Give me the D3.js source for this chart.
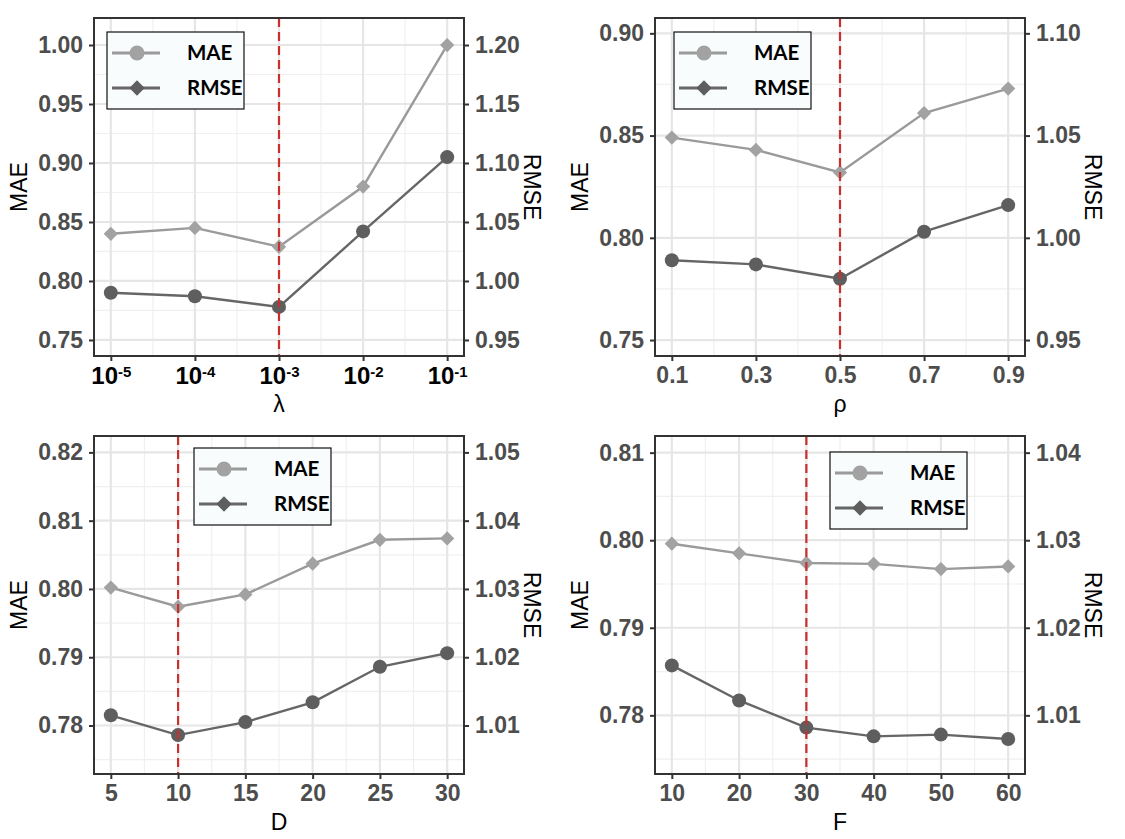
<!DOCTYPE html>
<html>
<head>
<meta charset="utf-8">
<script src="https://cdn.jsdelivr.net/npm/d3@7"></script>
<style>
  body { margin: 0; background: #fff; }
  svg { display: block; }
  svg text { font-family: "Liberation Sans", Arial, sans-serif; }
  svg text.leg { font-family: Lato, "Open Sans", sans-serif; }
</style>
</head>
<body>
<div id="chart"></div>
<script>
// ---- data ----
var lambdaValues = [1e-5, 1e-4, 1e-3, 1e-2, 1e-1];
var lambdaMAE = [0.790, 0.787, 0.778, 0.842, 0.905];
var lambdaRMSE = [1.040, 1.045, 1.029, 1.080, 1.200];

var rhoValues = [0.1, 0.3, 0.5, 0.7, 0.9];
var rhoMAE = [0.789, 0.787, 0.780, 0.803, 0.816];
var rhoRMSE = [1.049, 1.043, 1.032, 1.061, 1.073];

var dValues = [5, 10, 15, 20, 25, 30];
var dMAE = [0.7815, 0.7786, 0.7805, 0.7834, 0.7886, 0.7906];
var dRMSE = [1.0302, 1.0274, 1.0292, 1.0337, 1.0372, 1.0374];

var fValues = [10, 20, 30, 40, 50, 60];
var fMAE = [0.7857, 0.7817, 0.7786, 0.7776, 0.7778, 0.7773];
var fRMSE = [1.0296, 1.0285, 1.0274, 1.0273, 1.0267, 1.0270];

// tick labels
var lambdaMaeTicks = [0.75, 0.80, 0.85, 0.90, 0.95, 1.00];
var lambdaRmseTicks = [0.95, 1.00, 1.05, 1.10, 1.15, 1.20];
var rhoMaeTicks = [0.75, 0.80, 0.85, 0.90];
var rhoRmseTicks = [0.95, 1.00, 1.05, 1.10];
var dMaeTicks = [0.78, 0.79, 0.80, 0.81, 0.82];
var dRmseTicks = [1.01, 1.02, 1.03, 1.04, 1.05];
var fMaeTicks = [0.78, 0.79, 0.80, 0.81];
var fRmseTicks = [1.01, 1.02, 1.03, 1.04];

var legendLabels = ["MAE", "RMSE"];

// ---- layout ----
var W = 1125, H = 839;
var pw = 370, ph = 338;

var panels = [
  { left: 94, top: 18, xs: lambdaValues, mae: lambdaMAE, rmse: lambdaRMSE, best: 1e-3,
    xTitle: "\u03bb", log: true, xDomain: [Math.pow(10, -5.2), Math.pow(10, -0.8)],
    yDomain: [0.7364, 1.0229], offset: 0.2, maeTicks: lambdaMaeTicks, rmseTicks: lambdaRmseTicks,
    xFormat: d3.format(".1f"), legend: [13, 14] },
  { left: 655, top: 18, xs: rhoValues, mae: rhoMAE, rmse: rhoRMSE, best: 0.5,
    xTitle: "\u03c1", log: false, xDomain: [0.06, 0.94],
    yDomain: [0.7422, 0.9075], offset: 0.2, maeTicks: rhoMaeTicks, rmseTicks: rhoRmseTicks,
    xFormat: d3.format(".1f"), legend: [19, 14] },
  { left: 94, top: 436, xs: dValues, mae: dMAE, rmse: dRMSE, best: 10,
    xTitle: "D", log: false, xDomain: [3.75, 31.25],
    yDomain: [0.7729, 0.8224], offset: 0.23, maeTicks: dMaeTicks, rmseTicks: dRmseTicks,
    xFormat: d3.format("d"), legend: [100, 12] },
  { left: 655, top: 436, xs: fValues, mae: fMAE, rmse: fRMSE, best: 30,
    xTitle: "F", log: false, xDomain: [7.5, 62.5],
    yDomain: [0.7733, 0.8119], offset: 0.23, maeTicks: fMaeTicks, rmseTicks: fRmseTicks,
    xFormat: d3.format("d"), legend: [175, 16] }
];

var lightCol = "#9a9a9a", lightPt = "#a2a2a2";
var darkCol = "#666666", darkPt = "#5e5e5e";
var tickCol = "#4d4d4d";

var svg = d3.select("#chart").append("svg")
  .attr("width", W).attr("height", H);

svg.append("rect").attr("width", W).attr("height", H).attr("fill", "#fff");

var diamond = d3.symbol().type(d3.symbolDiamond2).size(130);
var legDiamond = d3.symbol().type(d3.symbolDiamond2).size(150);

// minor positions = midpoints between majors (plus one step beyond each end)
function minors(ticks, dom, isLog) {
  var out = [];
  var t = isLog ? ticks.map(function (v) { return Math.log10(v); }) : ticks;
  var step = t[1] - t[0];
  for (var i = -1; i < t.length; i++) {
    var m = t[0] + (i + 0.5) * step;
    var v = isLog ? Math.pow(10, m) : m;
    if (v > Math.min(dom[0], dom[1]) && v < Math.max(dom[0], dom[1])) out.push(v);
  }
  return out;
}

panels.forEach(function (p) {
  var g = svg.append("g").attr("transform", "translate(" + p.left + "," + p.top + ")");

  var x = (p.log ? d3.scaleLog() : d3.scaleLinear()).domain(p.xDomain).range([0, pw]);
  var y = d3.scaleLinear().domain(p.yDomain).range([ph, 0]);
  var y2 = d3.scaleLinear().domain([p.yDomain[0] + p.offset, p.yDomain[1] + p.offset]).range([ph, 0]);

  var xTicks = p.xs;

  // grid
  var grid = g.append("g");
  grid.selectAll(".vminor").data(minors(xTicks, p.xDomain, p.log)).enter().append("line")
    .attr("x1", function (d) { return x(d); }).attr("x2", function (d) { return x(d); })
    .attr("y1", 0).attr("y2", ph).attr("stroke", "#f0f0f0").attr("stroke-width", 1.2);
  grid.selectAll(".hminor").data(minors(p.maeTicks, p.yDomain, false)).enter().append("line")
    .attr("x1", 0).attr("x2", pw)
    .attr("y1", function (d) { return y(d); }).attr("y2", function (d) { return y(d); })
    .attr("stroke", "#f0f0f0").attr("stroke-width", 1.2);
  grid.selectAll(".vmajor").data(xTicks).enter().append("line")
    .attr("x1", function (d) { return x(d); }).attr("x2", function (d) { return x(d); })
    .attr("y1", 0).attr("y2", ph).attr("stroke", "#e6e6e6").attr("stroke-width", 2.2);
  grid.selectAll(".hmajor").data(p.maeTicks).enter().append("line")
    .attr("x1", 0).attr("x2", pw)
    .attr("y1", function (d) { return y(d); }).attr("y2", function (d) { return y(d); })
    .attr("stroke", "#e6e6e6").attr("stroke-width", 2.2);

  var rmsePts = p.xs.map(function (v, i) { return [x(v), y2(p.rmse[i])]; });
  var maePts = p.xs.map(function (v, i) { return [x(v), y(p.mae[i])]; });

  // light line with diamonds (right axis)
  g.append("path").attr("d", d3.line()(rmsePts))
    .attr("fill", "none").attr("stroke", lightCol).attr("stroke-width", 2.4);
  g.selectAll(".dia").data(rmsePts).enter().append("path")
    .attr("d", diamond)
    .attr("transform", function (d) { return "translate(" + d[0] + "," + d[1] + ")"; })
    .attr("fill", lightPt);

  // dark line with circles (left axis)
  g.append("path").attr("d", d3.line()(maePts))
    .attr("fill", "none").attr("stroke", darkCol).attr("stroke-width", 2.4);
  g.selectAll(".dot").data(maePts).enter().append("circle")
    .attr("cx", function (d) { return d[0]; }).attr("cy", function (d) { return d[1]; })
    .attr("r", 7).attr("fill", darkPt);

  // best-parameter marker
  g.append("line")
    .attr("x1", x(p.best)).attr("x2", x(p.best)).attr("y1", 0).attr("y2", ph)
    .attr("stroke", "#c8302f").attr("stroke-width", 2.2).attr("stroke-dasharray", "9,5");

  // panel border
  g.append("rect").attr("width", pw).attr("height", ph)
    .attr("fill", "none").attr("stroke", "#333").attr("stroke-width", 2);

  // axes
  var ax = g.append("g").attr("transform", "translate(0," + ph + ")")
    .call(d3.axisBottom(x).tickValues(xTicks).tickSize(5).tickPadding(6).tickFormat(p.xFormat));
  var ay = g.append("g")
    .call(d3.axisLeft(y).tickValues(p.maeTicks).tickSize(5).tickPadding(6).tickFormat(d3.format(".2f")));
  var ay2 = g.append("g").attr("transform", "translate(" + pw + ",0)")
    .call(d3.axisRight(y2).tickValues(p.rmseTicks).tickSize(5).tickPadding(6).tickFormat(d3.format(".2f")));

  [ax, ay, ay2].forEach(function (a) {
    a.attr("font-family", null).attr("font-size", null);
    a.select(".domain").remove();
    a.selectAll(".tick line").attr("stroke", "#333").attr("stroke-width", 2);
    a.selectAll(".tick text").attr("fill", tickCol)
      .style("font-size", "23px").style("font-weight", "bold");
  });

  if (p.log) {
    ax.selectAll(".tick text").attr("fill", "#000").style("font-size", "24px").each(function (d) {
      var t = d3.select(this);
      t.text(null);
      t.append("tspan").text("10");
      t.append("tspan").attr("dy", "-0.5em").style("font-size", "15px")
        .text(Math.round(Math.log10(d)));
    });
  }

  // axis titles
  g.append("text").attr("x", pw / 2).attr("y", ph + 56)
    .attr("text-anchor", "middle").style("font-size", "23px").attr("fill", "#000").text(p.xTitle);
  g.append("text")
    .attr("transform", "translate(" + (-67) + "," + (ph / 2) + ") rotate(-90)")
    .attr("text-anchor", "middle").style("font-size", "23px").attr("fill", "#000").text("MAE");
  g.append("text")
    .attr("transform", "translate(" + (pw + 60) + "," + (ph / 2) + ") rotate(90)")
    .attr("text-anchor", "middle").style("font-size", "23px").attr("fill", "#000").text("RMSE");

  // legend
  var lg = g.append("g").attr("transform", "translate(" + p.legend[0] + "," + p.legend[1] + ")");
  lg.append("rect").attr("width", 137).attr("height", 77)
    .attr("fill", "#f8fcfd").attr("stroke", "#111").attr("stroke-width", 1.2);
  var rows = lg.selectAll(".row").data(legendLabels).enter().append("g")
    .attr("transform", function (d, i) { return "translate(0," + (i === 0 ? 21 : 56) + ")"; });
  rows.append("line").attr("x1", 5).attr("x2", 53).attr("y1", 0).attr("y2", 0)
    .attr("stroke", function (d, i) { return i === 0 ? lightCol : darkCol; }).attr("stroke-width", 3);
  rows.filter(function (d, i) { return i === 0; }).append("circle")
    .attr("cx", 30).attr("cy", 0).attr("r", 7.5).attr("fill", lightPt);
  rows.filter(function (d, i) { return i === 1; }).append("path")
    .attr("d", legDiamond).attr("transform", "translate(30,0)").attr("fill", darkPt);
  rows.append("text").attr("class", "leg").attr("x", 80).attr("y", 0).attr("dy", "0.36em")
    .style("font-weight", "bold").style("font-size", "20.5px")
    .attr("fill", "#000").text(function (d) { return d; });
});
</script>
</body>
</html>
